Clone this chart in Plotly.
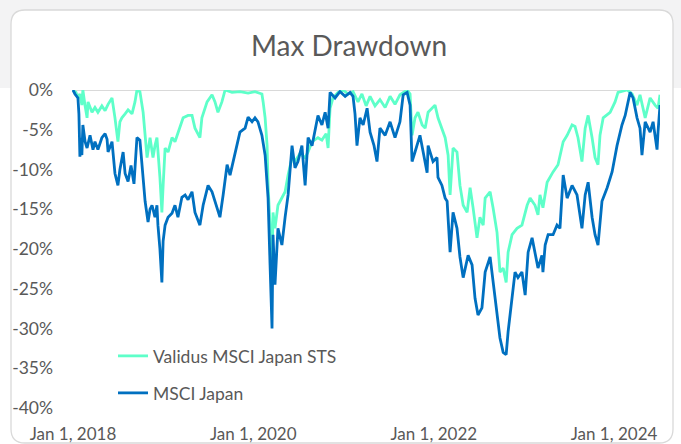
import plotly.graph_objects as go

# ---------------- data ----------------
sts_dates = [
    "2018-01-01","2018-01-13","2018-01-21","2018-01-29","2018-02-06","2018-02-10","2018-02-19","2018-02-27",
    "2018-03-03","2018-03-19","2018-03-31","2018-04-12","2018-04-28","2018-05-11","2018-05-23","2018-06-08",
    "2018-06-20","2018-07-02","2018-07-10","2018-07-18","2018-07-31","2018-08-12","2018-08-28","2018-09-09",
    "2018-09-17","2018-09-29","2018-10-12","2018-10-20","2018-10-28","2018-11-09","2018-11-21","2018-11-29",
    "2018-12-07","2018-12-19","2018-12-27","2019-01-01","2019-01-09","2019-01-21","2019-02-06","2019-02-18",
    "2019-03-02","2019-03-23","2019-04-12","2019-04-28","2019-05-10","2019-05-30","2019-06-07","2019-06-28",
    "2019-07-18","2019-07-30","2019-08-11","2019-08-27","2019-09-09","2019-10-07","2019-11-08","2019-12-11",
    "2020-01-08","2020-02-05","2020-02-10","2020-02-18","2020-02-26","2020-03-01","2020-03-09","2020-03-17",
    "2020-03-21","2020-03-29","2020-04-10","2020-04-26","2020-05-09","2020-05-21","2020-06-06","2020-06-18",
    "2020-07-08","2020-07-29","2020-08-10","2020-08-26","2020-09-19","2020-10-05","2020-10-22","2020-10-30",
    "2020-11-07","2020-11-19","2020-12-09","2020-12-30","2021-01-19","2021-02-08","2021-02-28","2021-03-16",
    "2021-04-02","2021-04-18","2021-05-08","2021-05-28","2021-06-18","2021-07-08","2021-07-28","2021-08-17",
    "2021-09-15","2021-09-27","2021-10-05","2021-10-17","2021-10-29","2021-11-15","2021-11-27","2021-12-09",
    "2021-12-25","2022-01-06","2022-01-18","2022-02-03","2022-02-16","2022-02-28","2022-03-08","2022-03-20",
    "2022-04-05","2022-04-17","2022-04-30","2022-05-16","2022-05-28","2022-06-09","2022-06-25","2022-07-07",
    "2022-07-20","2022-07-28","2022-08-17","2022-08-29","2022-09-14","2022-09-26","2022-10-09","2022-10-21",
    "2022-10-29","2022-11-14","2022-12-04","2022-12-24","2023-01-14","2023-01-26","2023-02-15","2023-02-27",
    "2023-03-07","2023-03-19","2023-04-05","2023-04-29","2023-05-19","2023-06-09","2023-06-25","2023-07-15",
    "2023-07-27","2023-08-08","2023-08-24","2023-09-06","2023-09-18","2023-10-04","2023-10-16","2023-10-28",
    "2023-11-05","2023-11-18","2023-12-16","2024-01-05","2024-01-17","2024-02-23","2024-03-14","2024-04-03",
    "2024-04-15","2024-05-06","2024-05-26","2024-06-15","2024-06-27","2024-07-05",
]
sts_drawdown = [
    0, -0.3, -1.0, -0.5, -1.9, 0, -2.0, -3.5,
    -1.5, -2.8, -2.2, -2.8, -2.0, -2.6, -1.8, -1.0,
    -3.5, -6.5, -4.0, -3.5, -3.0, -2.5, -3.0, -1.5,
    0, -0.2, -2.8, -5.5, -8.5, -6.0, -8.5, -7.0,
    -6.0, -11.0, -15.4, -12.0, -7.3, -7.8, -6.0, -6.5,
    -5.5, -3.5, -3.2, -3.2, -4.8, -6.0, -3.5, -1.5,
    -0.6, -1.5, -2.8, -1.5, 0, -0.3, -0.2, -0.4,
    -0.2, -0.5, -1.5, -3.5, -7.0, -12.0, -17.0, -22.4,
    -15.4, -17.4, -14.5, -13.6, -12.8, -10.7, -8.5, -9.0,
    -8.0, -8.5, -7.8, -6.5, -6.0, -6.3, -5.5, -7.3,
    -2.3, -1.0, -0.3, 0, -0.5, -0.2, -1.5, -0.5,
    -2.0, -0.8, -2.0, -1.2, -2.2, -0.8, -1.8, -0.6,
    0, -0.5, -5.7, -3.5, -2.8, -4.4, -4.8, -2.8,
    -2.3, -1.9, -3.5, -4.8, -6.0, -8.2, -13.2, -7.3,
    -7.8, -12.0, -14.5, -15.4, -12.3, -14.8, -18.6, -16.0,
    -17.0, -13.6, -12.8, -14.8, -17.9, -22.9, -22.4, -24.2,
    -20.4, -18.2, -17.4, -17.0, -14.5, -13.6, -14.5, -15.7,
    -13.2, -14.8, -11.6, -10.3, -9.4, -6.5, -5.7, -4.4,
    -4.6, -6.0, -9.0, -4.8, -3.2, -6.0, -8.5, -9.4,
    -5.7, -3.5, -2.8, -1.5, -0.3, 0, -0.5, -1.9,
    -0.6, -3.5, -1.0, -1.9, -2.3, -0.6,
]

msci_dates = [
    "2018-01-01","2018-01-09","2018-01-21","2018-01-25","2018-01-29","2018-02-02","2018-02-06","2018-02-10",
    "2018-02-19","2018-02-27","2018-03-11","2018-03-23","2018-03-31","2018-04-12","2018-04-28","2018-05-11",
    "2018-05-19","2018-05-23","2018-06-08","2018-06-20","2018-07-02","2018-07-10","2018-07-23","2018-07-31",
    "2018-08-12","2018-08-24","2018-09-05","2018-09-17","2018-09-29","2018-10-12","2018-10-20","2018-11-01",
    "2018-11-09","2018-11-17","2018-11-29","2018-12-07","2018-12-11","2018-12-19","2018-12-27","2019-01-01",
    "2019-01-09","2019-01-21","2019-02-06","2019-02-18","2019-03-02","2019-03-18","2019-03-31","2019-04-12",
    "2019-04-28","2019-05-10","2019-05-30","2019-06-12","2019-07-02","2019-07-18","2019-08-07","2019-08-19",
    "2019-09-01","2019-09-17","2019-09-29","2019-10-11","2019-10-27","2019-11-08","2019-11-29","2019-12-11",
    "2019-12-27","2020-01-08","2020-01-20","2020-02-05","2020-02-18","2020-03-01","2020-03-09","2020-03-13",
    "2020-03-17","2020-03-21","2020-03-29","2020-04-10","2020-04-26","2020-05-09","2020-05-21","2020-06-06",
    "2020-06-18","2020-06-30","2020-07-16","2020-07-29","2020-08-10","2020-08-26","2020-09-07","2020-09-19",
    "2020-10-05","2020-10-18","2020-10-30","2020-11-07","2020-11-27","2020-12-17","2021-01-07","2021-01-27",
    "2021-02-08","2021-02-16","2021-02-24","2021-03-08","2021-03-21","2021-04-06","2021-04-18","2021-05-04",
    "2021-05-16","2021-05-28","2021-06-18","2021-07-08","2021-07-28","2021-08-17","2021-08-30","2021-09-15",
    "2021-09-27","2021-10-05","2021-10-17","2021-11-06","2021-11-19","2021-12-05","2021-12-09","2021-12-29",
    "2022-01-14","2022-01-18","2022-02-03","2022-02-16","2022-02-24","2022-03-08","2022-03-20","2022-04-05",
    "2022-04-17","2022-04-30","2022-05-20","2022-06-05","2022-06-17","2022-06-29","2022-07-15","2022-07-28",
    "2022-08-17","2022-08-29","2022-09-14","2022-09-26","2022-10-09","2022-10-21","2022-10-29","2022-11-14",
    "2022-11-26","2022-12-08","2022-12-24","2023-01-06","2023-01-18","2023-02-03","2023-02-15","2023-02-27",
    "2023-03-15","2023-03-19","2023-03-28","2023-04-09","2023-04-29","2023-05-15","2023-05-27","2023-06-09",
    "2023-06-25","2023-07-15","2023-08-04","2023-08-24","2023-09-06","2023-09-18","2023-10-04","2023-10-16",
    "2023-10-28","2023-11-13","2023-12-04","2023-12-24","2024-01-13","2024-02-02","2024-02-15","2024-03-06",
    "2024-03-18","2024-04-03","2024-04-15","2024-04-23","2024-05-06","2024-05-26","2024-06-07","2024-06-23",
    "2024-06-27","2024-07-05",
]
msci_drawdown = [
    0, -0.5, -1.0, -3.0, -8.4, -6.0, -8.2, -4.4,
    -6.5, -7.3, -5.7, -7.5, -6.5, -7.5, -6.0, -5.5,
    -6.2, -7.8, -6.5, -10.5, -12.0, -10.0, -7.8, -10.5,
    -11.5, -9.5, -11.8, -6.0, -6.3, -11.6, -14.0, -16.6,
    -15.0, -14.5, -16.0, -14.5, -17.0, -20.0, -24.2, -19.0,
    -17.0, -16.0, -15.5, -14.5, -16.0, -13.5, -13.2, -13.8,
    -12.8, -15.4, -17.0, -14.5, -12.0, -12.8, -14.8, -16.0,
    -13.2, -9.4, -10.7, -9.0, -7.0, -5.3, -4.8, -3.4,
    -4.0, -3.5, -4.0, -5.7, -8.2, -13.6, -22.0, -28.3,
    -30.0, -18.2, -24.5, -17.4, -19.5, -16.0, -13.2, -7.0,
    -9.8, -9.0, -7.0, -12.0, -6.0, -7.0, -5.3, -3.2,
    -4.4, -2.8, -4.8, -0.3, -1.0, -0.2, -0.8, -0.3,
    -0.8, -3.0, -7.0, -3.5, -4.4, -2.3, -5.3, -7.0,
    -9.0, -4.8, -5.7, -4.0, -6.0, -4.0, -0.6, -0.3,
    -1.9, -9.0, -7.8, -5.7, -7.8, -10.4, -7.0, -9.0,
    -8.5, -11.0, -12.0, -13.6, -14.0, -20.4, -15.4, -17.4,
    -21.0, -23.6, -20.8, -22.0, -26.2, -28.3, -27.4, -22.9,
    -21.0, -24.2, -27.9, -31.2, -33.0, -33.3, -30.4, -26.2,
    -22.9, -23.6, -22.9, -25.8, -20.4, -18.6, -20.4, -22.4,
    -20.8, -22.9, -19.5, -18.2, -18.2, -17.0, -17.4, -10.7,
    -13.6, -12.0, -13.2, -17.4, -13.2, -11.6, -16.0, -18.2,
    -19.5, -14.0, -12.3, -10.3, -7.0, -4.4, -3.2, -0.3,
    -1.0, -3.5, -4.8, -8.2, -4.0, -5.3, -4.0, -7.5,
    -5.3, -1.9,
]

series_names = ["Validus MSCI Japan STS", "MSCI Japan"]
y_tick_values = [0, -5, -10, -15, -20, -25, -30, -35, -40]
y_tick_labels = ["0%", "-5%", "-10%", "-15%", "-20%", "-25%", "-30%", "-35%", "-40%"]
x_tick_values = ["2018-01-01", "2020-01-01", "2022-01-01", "2024-01-01"]
x_tick_labels = ["Jan 1, 2018", "Jan 1, 2020", "Jan 1, 2022", "Jan 1, 2024"]

# ---------------- layout geometry ----------------
W, H = 681, 444
L, R, T, B = 72, 660, 90, 408  # plot area in pixels


def px(x):
    return (x - L) / (R - L)


def py(y):
    return (B - y) / (B - T)


def rounded_rect(x0, y0, x1, y1, r):
    return (
        f"M {px(x0 + r)},{py(y0)} L {px(x1 - r)},{py(y0)} "
        f"Q {px(x1)},{py(y0)} {px(x1)},{py(y0 + r)} "
        f"L {px(x1)},{py(y1 - r)} Q {px(x1)},{py(y1)} {px(x1 - r)},{py(y1)} "
        f"L {px(x0 + r)},{py(y1)} Q {px(x0)},{py(y1)} {px(x0)},{py(y1 - r)} "
        f"L {px(x0)},{py(y0 + r)} Q {px(x0)},{py(y0)} {px(x0 + r)},{py(y0)} Z"
    )


FONT = "Lato, 'Open Sans', sans-serif"
TEXT = "#595959"
STS_COLOR = "#5EFFC9"
MSCI_COLOR = "#0070C0"
FS = 17.5

fig = go.Figure()
fig.add_trace(go.Scatter(
    x=sts_dates, y=sts_drawdown, mode="lines", name=series_names[0],
    line=dict(color=STS_COLOR, width=2.8), legend="legend",
))
fig.add_trace(go.Scatter(
    x=msci_dates, y=msci_drawdown, mode="lines", name=series_names[1],
    line=dict(color=MSCI_COLOR, width=2.8), legend="legend2",
))

fig.update_layout(
    width=W, height=H,
    margin=dict(l=L, r=W - R, t=T, b=H - B, pad=0, autoexpand=False),
    paper_bgcolor="white",
    plot_bgcolor="rgba(0,0,0,0)",
    font=dict(family=FONT, size=FS, color=TEXT),
    title=dict(
        text="Max Drawdown", x=349 / W, xref="container", xanchor="center",
        y=1 - 46 / H, yref="container", yanchor="middle",
        font=dict(family=FONT, size=28, color=TEXT),
    ),
    showlegend=True,
    legend=dict(
        x=px(113), y=py(356), xanchor="left", yanchor="middle",
        bgcolor="rgba(0,0,0,0)", font=dict(size=FS, color=TEXT),
    ),
    legend2=dict(
        x=px(113), y=py(393), xanchor="left", yanchor="middle",
        bgcolor="rgba(0,0,0,0)", font=dict(size=FS, color=TEXT),
    ),
    xaxis=dict(
        type="date", range=["2017-12-28", "2024-07-05"],
        tickvals=x_tick_values, ticktext=x_tick_labels, automargin=False,
        showgrid=False, zeroline=False, showline=False, ticks="",
        ticklabelstandoff=14, tickfont=dict(size=17, color=TEXT),
    ),
    yaxis=dict(
        range=[-40, 0], tickvals=y_tick_values, ticktext=y_tick_labels,
        automargin=False,
        showgrid=False, zeroline=True, zerolinecolor="#d9d9d9", zerolinewidth=1.2,
        showline=False, ticks="", ticklabelstandoff=18,
        tickfont=dict(size=FS, color=TEXT),
    ),
    shapes=[
        dict(type="rect", xref="paper", yref="paper", layer="below",
             x0=px(0), x1=px(W), y0=py(88), y1=py(0),
             fillcolor="#f3f3f4", line=dict(width=0)),
        dict(type="path", xref="paper", yref="paper", layer="below",
             path=rounded_rect(11, 10, 673, 443, 14),
             fillcolor="white", line=dict(color="#d9d9d9", width=1.3)),
    ],
)

fig.write_html(
    "out.html",
    config={"displayModeBar": False},
    post_script="document.body.style.margin='0';document.body.style.overflow='hidden';",
)
